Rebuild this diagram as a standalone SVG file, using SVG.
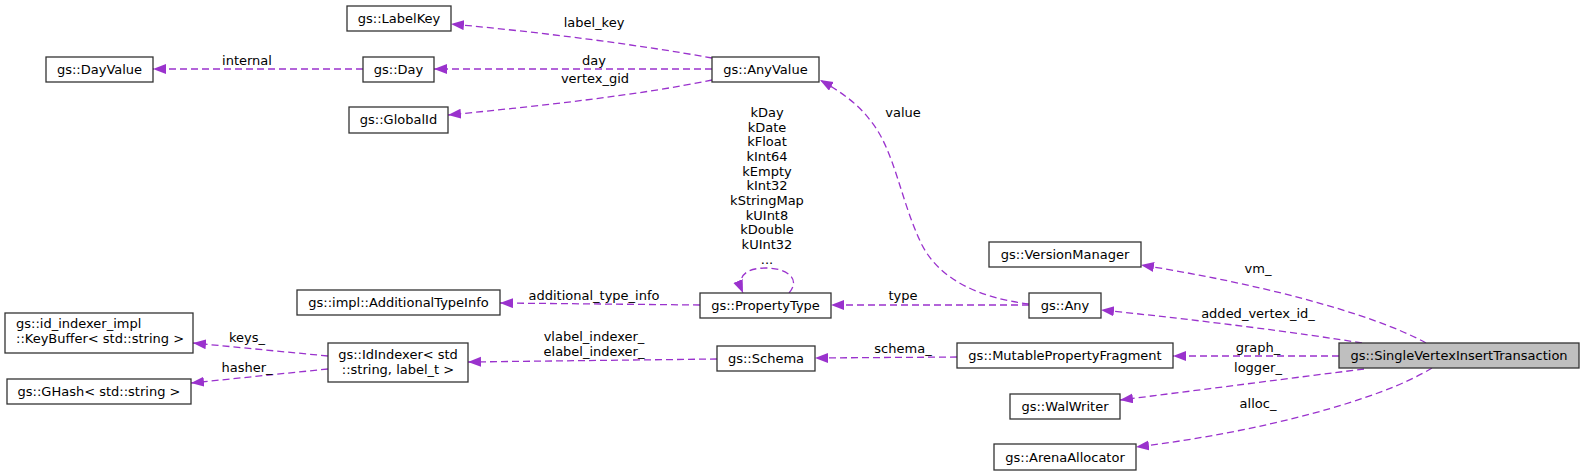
<svg xmlns="http://www.w3.org/2000/svg" width="1584" height="476" viewBox="0 0 1584 476">
<defs>
<marker id="ah" markerUnits="userSpaceOnUse" markerWidth="14" markerHeight="11" refX="13" refY="5" orient="auto">
<path d="M0,0 L13,5 L0,10 z" fill="#9a32cd"/>
</marker>
<style>
.n rect{fill:#ffffff;stroke:#333333;stroke-width:1.3}
.n.main rect{fill:#bfbfbf}
text{font-family:"DejaVu Sans","Liberation Sans",sans-serif;font-size:13px;fill:#000000}
.n text{text-anchor:middle}
.lbl text{text-anchor:middle}
.e path{fill:none;stroke:#9a32cd;stroke-width:1.3;stroke-dasharray:7,4;marker-end:url(#ah)}
</style>
</defs>
<rect width="1584" height="476" fill="#ffffff"/>
<g id="edges" class="e">
<path d="M712,58 C640,45 540,32 451,24"/>
<path d="M712,69 L434,69"/>
<path d="M712,80 C640,95 540,106 448,115"/>
<path d="M363,69 L153,69"/>
<path d="M1029,304 C980,298 940,280 922,245 C900,200 895,150 870,120 C858,104 840,91 820,80"/>
<path d="M1029,305 L831,305"/>
<path d="M700,305 L500,303"/>
<path d="M789,293 C802,278 785,268 766,268 C746,268 736,276 743,293"/>
<path d="M717,359 L468,362"/>
<path d="M328,356 L193,343"/>
<path d="M328,369 L191,383"/>
<path d="M957,357 L815,358"/>
<path d="M1426,343 C1370,312 1250,282 1141,265"/>
<path d="M1362,343 C1300,333 1200,320 1101,310"/>
<path d="M1339,356 L1173,356"/>
<path d="M1364,369 C1300,377 1200,390 1120,400"/>
<path d="M1432,368 C1380,400 1260,432 1136,447"/>
</g>
<g id="edge-labels" class="lbl">
<text x="594" y="27">label_key</text>
<text x="594" y="65">day</text>
<text x="595" y="83">vertex_gid</text>
<text x="247" y="65">internal</text>
<text x="903" y="117">value</text>
<text x="767" y="117">kDay</text>
<text x="767" y="131.7">kDate</text>
<text x="767" y="146.3">kFloat</text>
<text x="767" y="161">kInt64</text>
<text x="767" y="175.7">kEmpty</text>
<text x="767" y="190.3">kInt32</text>
<text x="767" y="205">kStringMap</text>
<text x="767" y="219.7">kUInt8</text>
<text x="767" y="234.3">kDouble</text>
<text x="767" y="249">kUInt32</text>
<text x="767" y="263.7">...</text>
<text x="594" y="300">additional_type_info</text>
<text x="903" y="300">type</text>
<text x="594" y="341">vlabel_indexer_</text>
<text x="594" y="356">elabel_indexer_</text>
<text x="903" y="353">schema_</text>
<text x="247" y="342">keys_</text>
<text x="247" y="372">hasher_</text>
<text x="1258" y="273">vm_</text>
<text x="1258" y="318">added_vertex_id_</text>
<text x="1258" y="352">graph_</text>
<text x="1258" y="372">logger_</text>
<text x="1258" y="408">alloc_</text>
</g>
<g id="LabelKey" class="n"><rect x="347" y="6" width="104" height="25"/><text x="399" y="23">gs::LabelKey</text></g>
<g id="DayValue" class="n"><rect x="46" y="57" width="107" height="25"/><text x="99.5" y="74">gs::DayValue</text></g>
<g id="Day" class="n"><rect x="363" y="57" width="71" height="25"/><text x="398.5" y="74">gs::Day</text></g>
<g id="GlobalId" class="n"><rect x="349" y="107" width="99" height="26"/><text x="398.5" y="124">gs::GlobalId</text></g>
<g id="AnyValue" class="n"><rect x="712" y="57" width="107" height="25"/><text x="765.5" y="74">gs::AnyValue</text></g>
<g id="AdditionalTypeInfo" class="n"><rect x="297" y="290" width="203" height="25"/><text x="398.5" y="307">gs::impl::AdditionalTypeInfo</text></g>
<g id="PropertyType" class="n"><rect x="700" y="293" width="131" height="25"/><text x="765.5" y="310">gs::PropertyType</text></g>
<g id="KeyBuffer" class="n"><rect x="5" y="313" width="188" height="40"/><text x="16" y="328" style="text-anchor:start">gs::id_indexer_impl</text><text x="16" y="343" style="text-anchor:start">::KeyBuffer&lt; std::string &gt;</text></g>
<g id="IdIndexer" class="n"><rect x="328" y="343" width="140" height="39"/><text x="398" y="359">gs::IdIndexer&lt; std</text><text x="398" y="373.5">::string, label_t &gt;</text></g>
<g id="GHash" class="n"><rect x="7" y="379" width="184" height="25"/><text x="99" y="396">gs::GHash&lt; std::string &gt;</text></g>
<g id="Schema" class="n"><rect x="717" y="346" width="98" height="25"/><text x="766" y="363">gs::Schema</text></g>
<g id="MutablePropertyFragment" class="n"><rect x="957" y="343" width="216" height="25"/><text x="1065" y="360">gs::MutablePropertyFragment</text></g>
<g id="VersionManager" class="n"><rect x="989" y="242" width="152" height="25"/><text x="1065" y="259">gs::VersionManager</text></g>
<g id="Any" class="n"><rect x="1029" y="293" width="72" height="25"/><text x="1065" y="310">gs::Any</text></g>
<g id="SingleVertexInsertTransaction" class="n main"><rect x="1339" y="343" width="240" height="25"/><text x="1459" y="360">gs::SingleVertexInsertTransaction</text></g>
<g id="WalWriter" class="n"><rect x="1010" y="394" width="110" height="25"/><text x="1065" y="411">gs::WalWriter</text></g>
<g id="ArenaAllocator" class="n"><rect x="994" y="444" width="142" height="26"/><text x="1065" y="462">gs::ArenaAllocator</text></g>
</svg>
